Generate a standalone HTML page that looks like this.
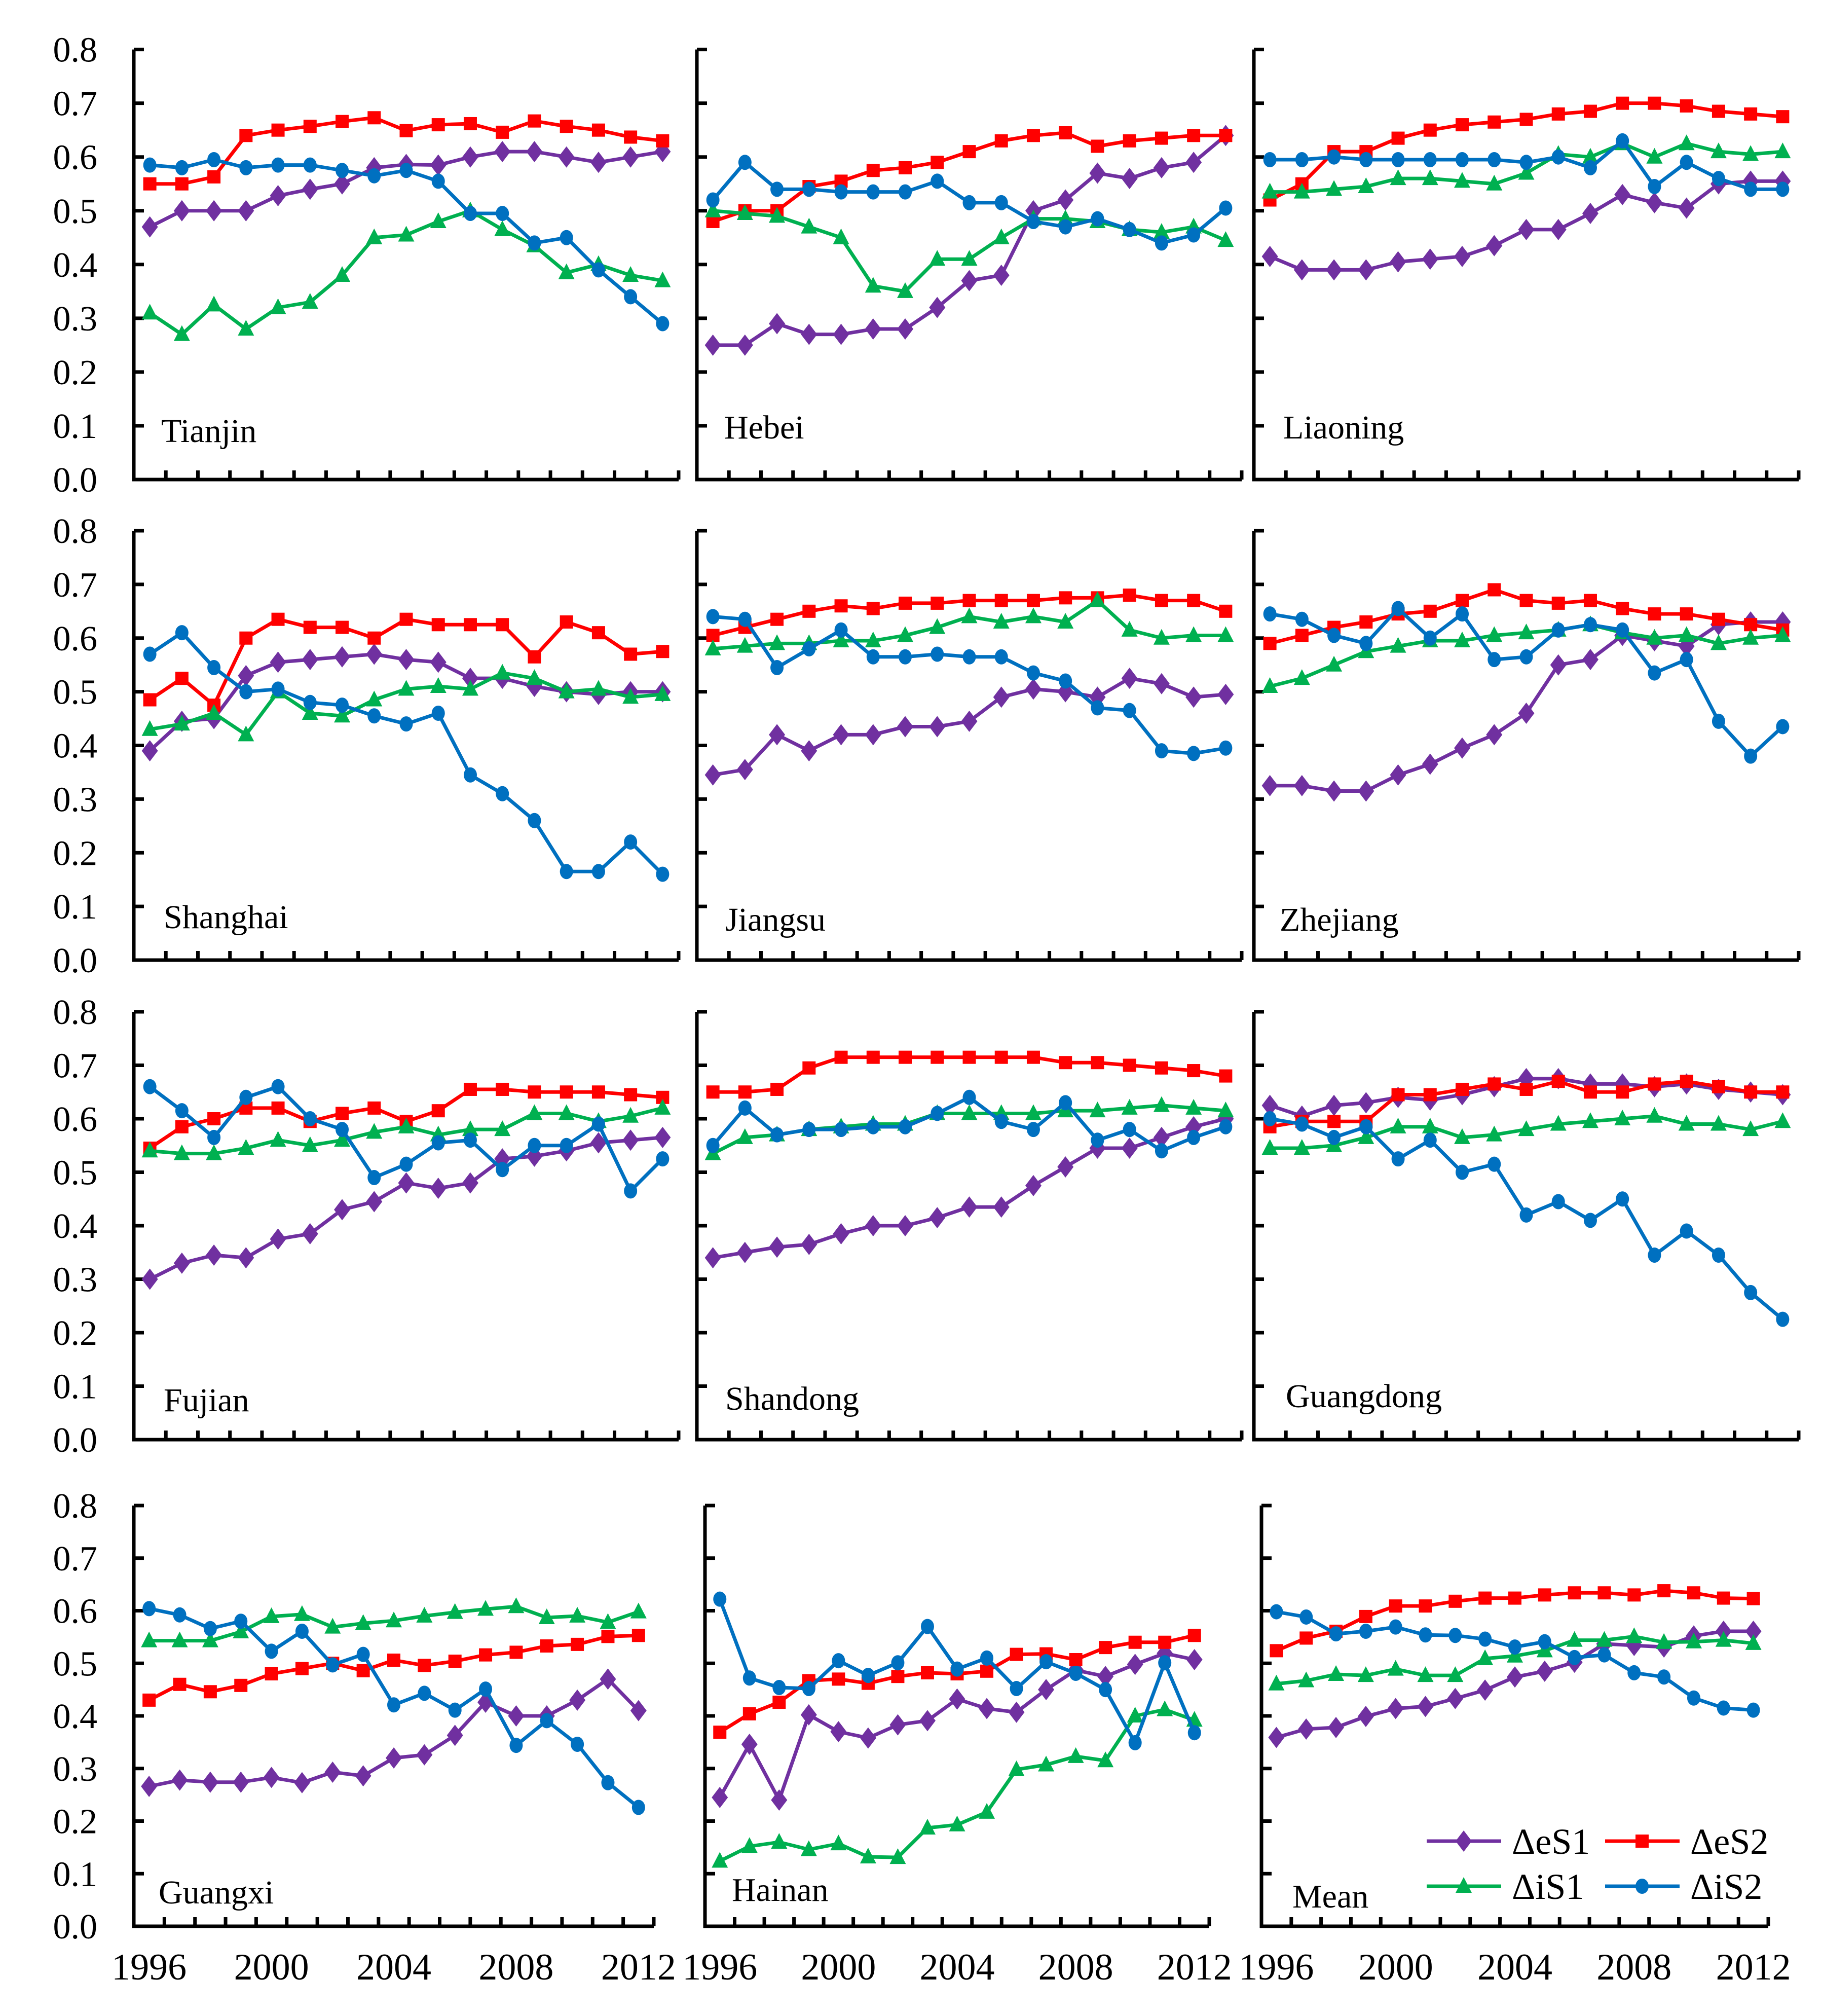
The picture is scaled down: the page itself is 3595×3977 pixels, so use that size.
<!DOCTYPE html>
<html><head><meta charset="utf-8"><style>
html,body{margin:0;padding:0;background:#fff;}
svg{display:block;}
text{font-family:"Liberation Serif",serif;fill:#000;}
</style></head><body>
<svg id="chart" xmlns="http://www.w3.org/2000/svg" width="3595" height="3977" viewBox="0 0 3595 3977"></svg>
<script>
const years = [1996,1997,1998,1999,2000,2001,2002,2003,2004,2005,2006,2007,2008,2009,2010,2011,2012];
const yTicks = [0,0.1,0.2,0.3,0.4,0.5,0.6,0.7,0.8];
const yearLabels = [1996,2000,2004,2008,2012];
const regions = ["Tianjin","Hebei","Liaoning","Shanghai","Jiangsu","Zhejiang","Fujian","Shandong","Guangdong","Guangxi","Hainan","Mean"];
const seriesNames = ["ΔeS1","ΔeS2","ΔiS1","ΔiS2"];

const eS1 = [
 [0.47,0.50,0.50,0.50,0.528,0.54,0.55,0.58,0.586,0.585,0.60,0.61,0.61,0.60,0.59,0.60,0.61],
 [0.25,0.25,0.29,0.27,0.27,0.28,0.28,0.32,0.37,0.38,0.50,0.52,0.57,0.56,0.58,0.59,0.64],
 [0.415,0.39,0.39,0.39,0.405,0.41,0.415,0.435,0.465,0.465,0.495,0.53,0.515,0.505,0.55,0.555,0.555],
 [0.39,0.445,0.45,0.53,0.555,0.56,0.565,0.57,0.56,0.555,0.525,0.525,0.51,0.50,0.495,0.50,0.50],
 [0.345,0.355,0.42,0.39,0.42,0.42,0.435,0.435,0.445,0.49,0.505,0.50,0.49,0.525,0.515,0.49,0.495],
 [0.325,0.325,0.315,0.315,0.345,0.365,0.395,0.42,0.46,0.55,0.56,0.605,0.595,0.585,0.625,0.63,0.63],
 [0.30,0.33,0.345,0.34,0.375,0.385,0.43,0.445,0.48,0.47,0.48,0.525,0.53,0.54,0.555,0.56,0.565],
 [0.34,0.35,0.36,0.365,0.385,0.40,0.40,0.415,0.435,0.435,0.475,0.51,0.545,0.545,0.565,0.585,0.60],
 [0.625,0.605,0.625,0.63,0.64,0.635,0.645,0.66,0.675,0.675,0.665,0.665,0.66,0.665,0.655,0.65,0.645],
 [0.266,0.278,0.274,0.274,0.283,0.273,0.293,0.286,0.32,0.326,0.363,0.426,0.40,0.40,0.43,0.47,0.41],
 [0.245,0.346,0.24,0.402,0.37,0.358,0.383,0.391,0.432,0.414,0.407,0.45,0.487,0.475,0.498,0.519,0.507],
 [0.359,0.375,0.378,0.399,0.414,0.418,0.433,0.449,0.474,0.485,0.502,0.537,0.534,0.531,0.552,0.561,0.561]
];
const eS2 = [
 [0.55,0.55,0.563,0.64,0.65,0.657,0.666,0.673,0.649,0.66,0.662,0.646,0.667,0.657,0.65,0.637,0.63],
 [0.48,0.50,0.50,0.545,0.555,0.575,0.58,0.59,0.61,0.63,0.64,0.645,0.62,0.63,0.635,0.64,0.64],
 [0.52,0.55,0.61,0.61,0.635,0.65,0.66,0.665,0.67,0.68,0.685,0.70,0.70,0.695,0.685,0.68,0.675],
 [0.485,0.525,0.475,0.60,0.635,0.62,0.62,0.60,0.635,0.625,0.625,0.625,0.565,0.63,0.61,0.57,0.575],
 [0.605,0.62,0.635,0.65,0.66,0.655,0.665,0.665,0.67,0.67,0.67,0.675,0.675,0.68,0.67,0.67,0.65],
 [0.59,0.605,0.62,0.63,0.645,0.65,0.67,0.69,0.67,0.665,0.67,0.655,0.645,0.645,0.635,0.625,0.615],
 [0.545,0.585,0.60,0.62,0.62,0.595,0.61,0.62,0.595,0.615,0.655,0.655,0.65,0.65,0.65,0.645,0.64],
 [0.65,0.65,0.655,0.695,0.715,0.715,0.715,0.715,0.715,0.715,0.715,0.705,0.705,0.70,0.695,0.69,0.68],
 [0.585,0.595,0.595,0.595,0.645,0.645,0.655,0.665,0.655,0.67,0.65,0.65,0.665,0.67,0.66,0.65,0.65],
 [0.43,0.46,0.446,0.458,0.48,0.49,0.50,0.486,0.506,0.496,0.504,0.516,0.521,0.533,0.536,0.551,0.553],
 [0.369,0.404,0.426,0.467,0.47,0.462,0.475,0.482,0.48,0.485,0.517,0.518,0.507,0.53,0.54,0.54,0.553],
 [0.524,0.548,0.561,0.589,0.609,0.609,0.618,0.624,0.624,0.63,0.634,0.634,0.63,0.638,0.634,0.624,0.623]
];
const iS1 = [
 [0.31,0.27,0.325,0.28,0.32,0.33,0.38,0.45,0.455,0.48,0.50,0.465,0.435,0.385,0.40,0.38,0.37],
 [0.50,0.495,0.49,0.47,0.45,0.36,0.35,0.41,0.41,0.45,0.485,0.485,0.48,0.465,0.46,0.47,0.445],
 [0.535,0.535,0.54,0.545,0.56,0.56,0.555,0.55,0.57,0.605,0.60,0.625,0.60,0.625,0.61,0.605,0.61],
 [0.43,0.44,0.46,0.42,0.50,0.46,0.455,0.485,0.505,0.51,0.505,0.535,0.525,0.50,0.505,0.49,0.495],
 [0.58,0.585,0.59,0.59,0.595,0.595,0.605,0.62,0.64,0.63,0.64,0.63,0.67,0.615,0.60,0.605,0.605],
 [0.51,0.525,0.55,0.575,0.585,0.595,0.595,0.605,0.61,0.615,0.625,0.61,0.60,0.605,0.59,0.60,0.605],
 [0.54,0.535,0.535,0.545,0.56,0.55,0.56,0.575,0.585,0.57,0.58,0.58,0.61,0.61,0.595,0.605,0.62],
 [0.535,0.565,0.57,0.58,0.585,0.59,0.59,0.61,0.61,0.61,0.61,0.615,0.615,0.62,0.625,0.62,0.615],
 [0.545,0.545,0.55,0.565,0.585,0.585,0.565,0.57,0.58,0.59,0.595,0.60,0.605,0.59,0.59,0.58,0.595],
 [0.543,0.543,0.543,0.56,0.589,0.593,0.569,0.576,0.581,0.59,0.597,0.603,0.608,0.587,0.59,0.578,0.598],
 [0.124,0.152,0.16,0.146,0.157,0.132,0.131,0.187,0.193,0.217,0.298,0.307,0.323,0.315,0.40,0.412,0.392],
 [0.461,0.467,0.479,0.477,0.489,0.477,0.477,0.509,0.514,0.524,0.544,0.544,0.551,0.54,0.541,0.544,0.538]
];
const iS2 = [
 [0.585,0.58,0.595,0.58,0.585,0.585,0.575,0.565,0.575,0.555,0.495,0.495,0.44,0.45,0.39,0.34,0.29],
 [0.52,0.59,0.54,0.54,0.535,0.535,0.535,0.555,0.515,0.515,0.48,0.47,0.485,0.465,0.44,0.455,0.505],
 [0.595,0.595,0.60,0.595,0.595,0.595,0.595,0.595,0.59,0.60,0.58,0.63,0.545,0.59,0.56,0.54,0.54],
 [0.57,0.61,0.545,0.50,0.505,0.48,0.475,0.455,0.44,0.46,0.345,0.31,0.26,0.165,0.165,0.22,0.16],
 [0.64,0.635,0.545,0.58,0.615,0.565,0.565,0.57,0.565,0.565,0.535,0.52,0.47,0.465,0.39,0.385,0.395],
 [0.645,0.635,0.605,0.59,0.655,0.60,0.645,0.56,0.565,0.615,0.625,0.615,0.535,0.56,0.445,0.38,0.435],
 [0.66,0.615,0.565,0.64,0.66,0.60,0.58,0.49,0.515,0.555,0.56,0.505,0.55,0.55,0.59,0.465,0.525],
 [0.55,0.62,0.57,0.58,0.58,0.585,0.585,0.61,0.64,0.595,0.58,0.63,0.56,0.58,0.54,0.565,0.585],
 [0.60,0.59,0.565,0.585,0.525,0.56,0.50,0.515,0.42,0.445,0.41,0.45,0.345,0.39,0.345,0.275,0.225],
 [0.604,0.592,0.566,0.58,0.523,0.561,0.497,0.517,0.421,0.443,0.411,0.451,0.344,0.391,0.346,0.273,0.226],
 [0.622,0.472,0.454,0.452,0.505,0.477,0.501,0.57,0.489,0.51,0.452,0.503,0.481,0.45,0.349,0.501,0.368],
 [0.598,0.588,0.556,0.561,0.569,0.554,0.553,0.546,0.531,0.541,0.511,0.516,0.482,0.474,0.434,0.415,0.411]
];

const NS = "http://www.w3.org/2000/svg";
const svg = document.getElementById("chart");
const colors = ["#7030A0","#FF0000","#00B050","#0070C0"];
const shapes = ["diamond","square","triangle","circle"];
const rowsY = [[97.6,946],[1047,1894],[1996,2840],[2970,3800]];
const colsX = [[[264,1339],[1375,2450],[2474,3549]],[[264,1339],[1375,2450],[2474,3549]],[[264,1339],[1375,2450],[2474,3549]],[[264,1290],[1391,2386],[2489,3489]]];
const namePos = [[318,872],[1429,865],[2532,865],[323,1831],[1431,1836],[2525,1836],[323,2784],[1431,2781],[2537,2776],[313,3755],[1444,3750],[2550,3763]];

function mk(tag, attrs, parent){
  const e = document.createElementNS(NS, tag);
  for (const k in attrs) e.setAttribute(k, attrs[k]);
  (parent||svg).appendChild(e);
  return e;
}
function marker(shape, x, y, color, g){
  let m;
  if (shape==="diamond") m = mk("polygon",{points:`${x},${y-21} ${x+16},${y} ${x},${y+21} ${x-16},${y}`,fill:color},g);
  else if (shape==="square") m = mk("rect",{x:x-13,y:y-13,width:26,height:26,fill:color},g);
  else if (shape==="triangle") m = mk("polygon",{points:`${x},${y-18} ${x+16},${y+13} ${x-16},${y+13}`,fill:color},g);
  else m = mk("ellipse",{cx:x,cy:y,rx:13,ry:15,fill:color},g);
  return m;
}

regions.forEach((name, i) => {
  const r = Math.floor(i/3), c = i%3;
  const [x0,x1] = colsX[r][c];
  const [yT,yB] = rowsY[r];
  const step = (x1-x0)/years.length;
  const xs = k => x0 + step*(k+0.5);
  const ys = v => yB - (v/0.8)*(yB-yT);
  const g = mk("g",{});
  
  
  // axes
  const ax = mk("path",{d:`M${x0},${yT} V${yB} H${x1}`,stroke:"#000","stroke-width":7,fill:"none"},g);
  
  
  yTicks.forEach(t => {
    const y = ys(t);
    if (t>0) mk("line",{x1:x0,y1:y,x2:x0+20,y2:y,stroke:"#000","stroke-width":7},g);
    if (c===0) {
      const tl = mk("text",{x:192,y:y+24,"text-anchor":"end","font-size":70},g);
      tl.textContent = t.toFixed(1);
      
      
    }
  });
  for (let k=1;k<=years.length;k++){
    const x = x0 + step*k;
    mk("line",{x1:x,y1:yB,x2:x,y2:yB-18,stroke:"#000","stroke-width":7},g);
  }
  if (r===3) {
    yearLabels.forEach(yr => {
      const k = years.indexOf(yr);
      const tl = mk("text",{x:xs(k),y:3905,"text-anchor":"middle","font-size":74},g);
      tl.textContent = yr;
      
      
    });
  }
  const nm = mk("text",{x:namePos[i][0],y:namePos[i][1],"font-size":66},g);
  nm.textContent = name;
  
  
  [eS1[i],eS2[i],iS1[i],iS2[i]].forEach((vals, s) => {
    const sg = mk("g",{},g);
    
    
    const pts = vals.map((v,k)=>`${xs(k)},${ys(v)}`).join(" ");
    mk("polyline",{points:pts,fill:"none",stroke:colors[s],"stroke-width":7,"stroke-linejoin":"round"},sg);
    vals.forEach((v,k)=>{
      const m = marker(shapes[s], xs(k), ys(v), colors[s], sg);
      
      
    });
  });
});

// legend
const lg = mk("g",{});


const legPos = [[2815,3632],[3167,3632],[2815,3721],[3167,3721]];
seriesNames.forEach((n,s)=>{
  const [lx,ly] = legPos[s];
  const e = mk("g",{},lg);
  
  
  mk("line",{x1:lx,y1:ly,x2:lx+147,y2:ly,stroke:colors[s],"stroke-width":7},e);
  marker(shapes[s], lx+73, ly, colors[s], e);
  const t = mk("text",{x:lx+168,y:ly+25,"font-size":72},e);
  t.textContent = n;
});
</script>
</body></html>
